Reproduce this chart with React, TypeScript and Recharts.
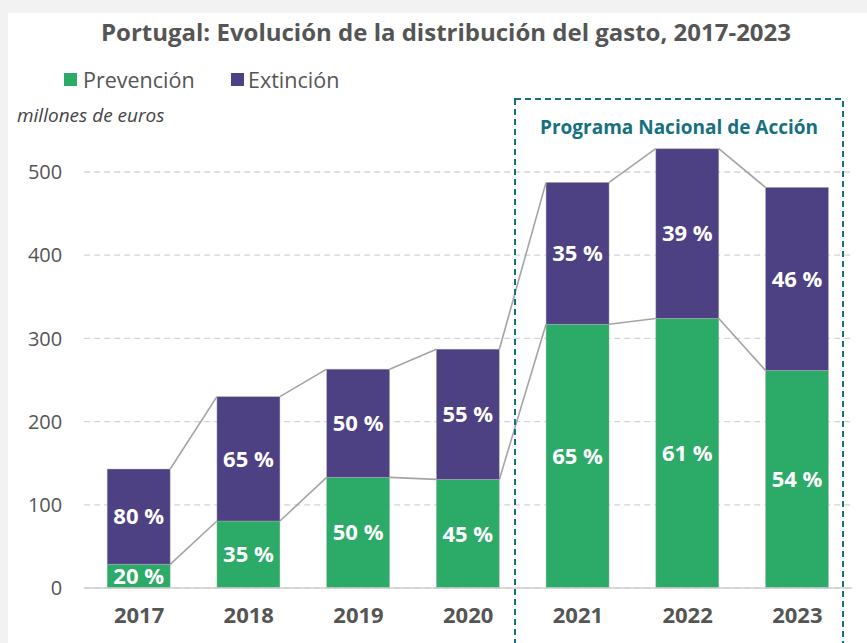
import React from 'react';
import { BarChart, Bar, XAxis, YAxis, CartesianGrid, LabelList } from 'recharts';

const years = ['2017', '2018', '2019', '2020', '2021', '2022', '2023'];
const prevencion = [28.5, 80.5, 133, 130.5, 317, 324, 261.5];
const extincion = [114.5, 149.5, 130, 156.5, 170.5, 204, 220];
const prevPct = ['20 %', '35 %', '50 %', '45 %', '65 %', '61 %', '54 %'];
const extPct = ['80 %', '65 %', '50 %', '55 %', '35 %', '39 %', '46 %'];
const yTicks = [0, 100, 200, 300, 400, 500];

const GREEN = '#2caa67';
const PURPLE = '#4d4184';
const TEXT = '#555555';
const TEAL = '#17707f';
const FONT = '"Open Sans", "Noto Sans", sans-serif';

const data = years.map((y, i) => ({
  year: y,
  prev: prevencion[i],
  ext: extincion[i],
  prevLabel: prevPct[i],
  extLabel: extPct[i],
}));

const geo: Record<string, { x: number; y: number; w: number }[]> = { prev: [], ext: [] };

function makeShape(key: string, fill: string) {
  return (props: any) => {
    const { x, y, width, height, payload } = props;
    const idx = typeof props.index === 'number' ? props.index : years.indexOf(payload?.year);
    geo[key][idx] = { x, y, w: width };
    const before = idx > 0 ? geo[key][idx - 1] : null;
    return (
      <g>
        <rect x={x} y={y} width={width} height={height} fill={fill} stroke="#b8b8b8" strokeOpacity={0.5} strokeWidth={0.8} />
        {before && (
          <line x1={before.x + before.w} y1={before.y} x2={x} y2={y} stroke="#a4a4a4" strokeWidth={1.6} />
        )}
      </g>
    );
  };
}

export default function App() {
  return (
    <div style={{ position: 'absolute', left: 0, top: 0, width: 867, height: 643, background: '#f2f2f2', overflow: 'hidden', fontFamily: FONT }}>
      <div style={{ position: 'absolute', left: 8, top: 13, width: 859, height: 630, background: '#ffffff' }} />
      <div style={{ position: 'absolute', left: 0, top: 0 }}>
        <BarChart
          width={867}
          height={643}
          data={data}
          margin={{ top: 88.8, right: 14.8, left: 14.2, bottom: 15 }}
          barSize={63}
        >
          <CartesianGrid vertical={false} horizontalValues={yTicks} stroke="#d4d4d4" strokeDasharray="6 4" strokeWidth={1.3} />
          <XAxis
            dataKey="year"
            height={40}
            tickLine={false}
            tickSize={0}
            tickMargin={19}
            axisLine={{ stroke: '#cfcfcf', strokeWidth: 1.5 }}
            tick={{ fill: TEXT, fontSize: 22, fontWeight: 700, fontFamily: FONT }}
          />
          <YAxis
            width={70}
            domain={[0, 600]}
            ticks={yTicks}
            axisLine={false}
            tickLine={false}
            tickSize={0}
            tickMargin={22}
            tick={{ fill: TEXT, fontSize: 20, fontFamily: FONT }}
          />
          <Bar dataKey="prev" stackId="a" fill={GREEN} isAnimationActive={false} shape={makeShape('prev', GREEN)}>
            <LabelList dataKey="prevLabel" position="center" fill="#ffffff" fontSize={22} fontWeight={700} fontFamily={FONT} />
          </Bar>
          <Bar dataKey="ext" stackId="a" fill={PURPLE} isAnimationActive={false} shape={makeShape('ext', PURPLE)}>
            <LabelList dataKey="extLabel" position="center" fill="#ffffff" fontSize={22} fontWeight={700} fontFamily={FONT} />
          </Bar>
        </BarChart>
      </div>
      <svg width={867} height={643} style={{ position: 'absolute', left: 0, top: 0, pointerEvents: 'none' }}>
        <rect x={515} y={99} width={328} height={600} fill="none" stroke={TEAL} strokeWidth={2} strokeDasharray="6 4" />
        <text x={679} y={127} textAnchor="middle" dominantBaseline="central" fill={TEAL} fontSize={19} fontWeight={700} fontFamily={FONT}>
          Programa Nacional de Acción
        </text>
        <text x={446} y={31} textAnchor="middle" dominantBaseline="central" fill={TEXT} fontSize={24} fontWeight={700} fontFamily={FONT}>
          Portugal: Evolución de la distribución del gasto, 2017-2023
        </text>
        <rect x={64} y={73} width={13} height={13} fill={GREEN} />
        <text x={83} y={79.5} dominantBaseline="central" fill={TEXT} fontSize={21.5} fontFamily={FONT}>Prevención</text>
        <rect x={231} y={73} width={13} height={13} fill={PURPLE} />
        <text x={248} y={79.5} dominantBaseline="central" fill={TEXT} fontSize={21.5} fontFamily={FONT}>Extinción</text>
        <text x={17} y={115} dominantBaseline="central" fill="#444444" fontSize={19} fontStyle="italic" fontFamily={FONT}>millones de euros</text>
      </svg>
    </div>
  );
}
